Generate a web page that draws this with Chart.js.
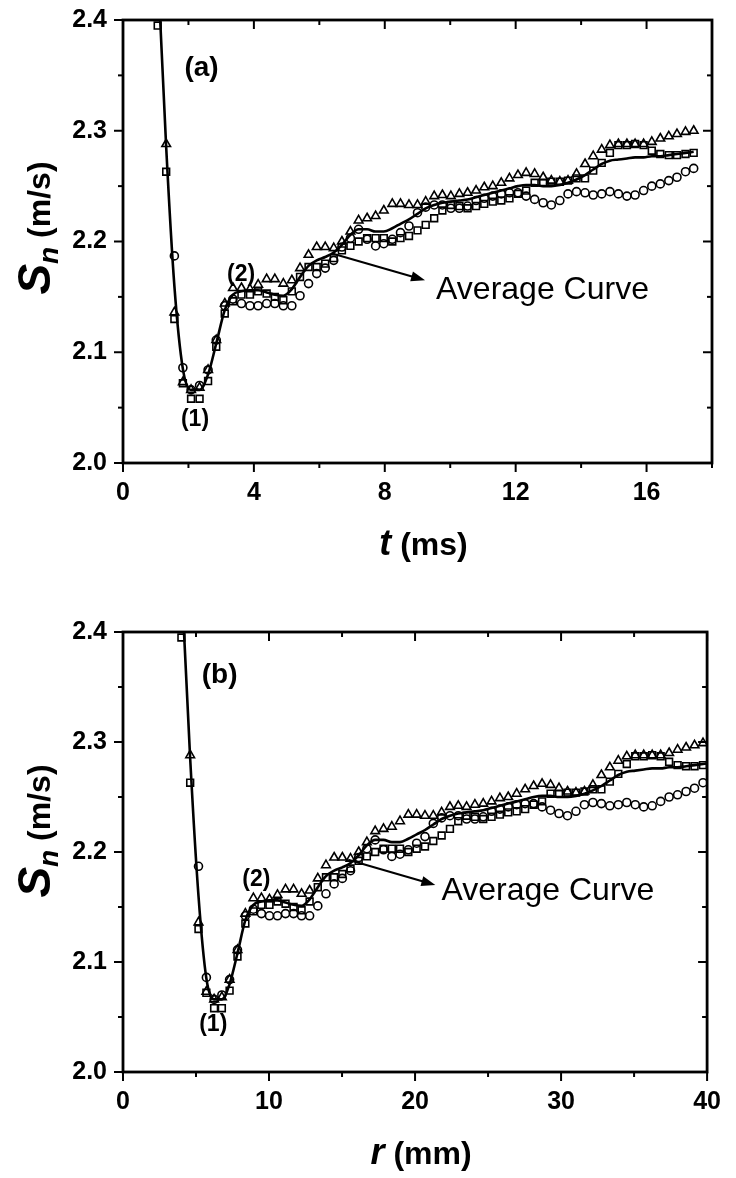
<!DOCTYPE html>
<html>
<head>
<meta charset="utf-8">
<script src="https://cdn.jsdelivr.net/npm/chart.js@4.4.1/dist/chart.umd.min.js"></script>
<style>
  html, body { margin: 0; padding: 0; background: #fff; }
  body { width: 736px; height: 1178px; position: relative; overflow: hidden; }
  canvas { position: absolute; left: 0; }
</style>
</head>
<body>
<canvas id="chartT" width="736" height="589" style="top:-11px"></canvas>
<canvas id="chartR" width="736" height="589" style="top:589px"></canvas>
<script>
// sample times (ms) and the matching flame radius (mm)
const tValues = [1.06, 1.32, 1.57, 1.83, 2.08, 2.34, 2.60, 2.85, 3.11, 3.36,
  3.62, 3.88, 4.13, 4.39, 4.64, 4.90, 5.16, 5.41, 5.67, 5.92,
  6.18, 6.44, 6.69, 6.95, 7.20, 7.46, 7.72, 7.97, 8.23, 8.48,
  8.74, 9.00, 9.25, 9.51, 9.76, 10.02, 10.28, 10.53, 10.79, 11.04,
  11.30, 11.56, 11.81, 12.07, 12.32, 12.58, 12.84, 13.09, 13.35, 13.60,
  13.86, 14.12, 14.37, 14.63, 14.88, 15.14, 15.40, 15.65, 15.91, 16.16,
  16.42, 16.68, 16.93, 17.19, 17.44];
const rValues = [4.00, 4.60, 5.17, 5.71, 6.24, 6.77, 7.30, 7.84, 8.38, 8.93,
  9.48, 10.03, 10.58, 11.13, 11.68, 12.23, 12.78, 13.34, 13.90, 14.46,
  15.02, 15.58, 16.14, 16.70, 17.27, 17.84, 18.41, 18.97, 19.54, 20.11,
  20.68, 21.25, 21.82, 22.39, 22.96, 23.53, 24.10, 24.67, 25.24, 25.81,
  26.38, 26.96, 27.54, 28.12, 28.70, 29.28, 29.86, 30.44, 31.02, 31.60,
  32.18, 32.76, 33.34, 33.92, 34.50, 35.08, 35.66, 36.24, 36.82, 37.40,
  37.98, 38.56, 39.14, 39.72, 40.30];

// Sn (m/s) for the three runs and their average
const sqValues = [2.395, 2.263, 2.130, 2.072, 2.058, 2.058, 2.074, 2.105, 2.135, 2.146,
  2.152, 2.152, 2.155, 2.153, 2.150, 2.147, 2.155, 2.168, 2.177, 2.177,
  2.180, 2.185, 2.192, 2.196, 2.200, 2.203, 2.203, 2.203, 2.200, 2.203,
  2.205, 2.210, 2.215, 2.221, 2.228, 2.233, 2.232, 2.230, 2.232, 2.234,
  2.236, 2.237, 2.239, 2.243, 2.246, 2.253, 2.253, 2.254, 2.254, 2.255,
  2.257, 2.257, 2.264, 2.271, 2.280, 2.287, 2.287, 2.288, 2.287, 2.282,
  2.279, 2.278, 2.278, 2.279, 2.280];
const circValues = [null, null, 2.187, 2.086, 2.066, 2.070, 2.084, 2.111, 2.142, 2.148,
  2.144, 2.142, 2.142, 2.144, 2.144, 2.142, 2.142, 2.151, 2.162, 2.171,
  2.176, 2.183, 2.195, 2.203, 2.211, 2.202, 2.196, 2.198, 2.202, 2.208,
  2.214, 2.226, 2.231, 2.233, 2.233, 2.230, 2.230, 2.232, 2.237, 2.239,
  2.241, 2.243, 2.244, 2.244, 2.241, 2.238, 2.235, 2.233, 2.237, 2.243,
  2.245, 2.244, 2.242, 2.243, 2.245, 2.243, 2.241, 2.242, 2.246, 2.250,
  2.252, 2.255, 2.258, 2.263, 2.266];
const triValues = [null, 2.288, 2.136, 2.073, 2.066, 2.068, 2.084, 2.111, 2.144, 2.158,
  2.158, 2.157, 2.161, 2.166, 2.166, 2.162, 2.165, 2.176, 2.188, 2.195,
  2.195, 2.194, 2.200, 2.209, 2.219, 2.221, 2.223, 2.228, 2.234, 2.234,
  2.233, 2.233, 2.236, 2.241, 2.242, 2.241, 2.243, 2.244, 2.246, 2.249,
  2.250, 2.253, 2.257, 2.260, 2.262, 2.261, 2.258, 2.255, 2.254, 2.255,
  2.261, 2.270, 2.277, 2.283, 2.287, 2.288, 2.288, 2.288, 2.288, 2.290,
  2.293, 2.295, 2.297, 2.299, 2.300];
const avgValues = [2.450, 2.285, 2.160, 2.085, 2.066, 2.066, 2.080, 2.108, 2.138, 2.152,
  2.155, 2.156, 2.156, 2.154, 2.152, 2.151, 2.157, 2.168, 2.178, 2.183,
  2.186, 2.190, 2.197, 2.206, 2.211, 2.211, 2.209, 2.209, 2.212, 2.216,
  2.220, 2.225, 2.230, 2.233, 2.235, 2.236, 2.237, 2.238, 2.240, 2.242,
  2.244, 2.246, 2.248, 2.250, 2.251, 2.251, 2.250, 2.250, 2.251, 2.253,
  2.256, 2.260, 2.265, 2.270, 2.273, 2.274, 2.275, 2.276, 2.276, 2.277,
  2.277, 2.278, 2.279, 2.280, 2.281];

// axis ticks
const tMajor = [0, 4, 8, 12, 16];
const tMinor = [2, 6, 10, 14, 18];
const rMajor = [0, 10, 20, 30, 40];
const rMinor = [5, 15, 25, 35];
const sMajor = [2.0, 2.1, 2.2, 2.3, 2.4];
const sMinor = [2.05, 2.15, 2.25, 2.35];

const FONT = "'Liberation Sans', Arial, sans-serif";

// frame, ticks, notes and axis titles drawn on top of the datasets
const decor = {
  id: 'decor',
  afterDatasetsDraw(chart, args, o) {
    const { ctx, chartArea: a, scales: { x, y } } = chart;
    ctx.save();
    ctx.strokeStyle = '#000';
    ctx.fillStyle = '#000';
    ctx.lineWidth = 2.8;
    ctx.strokeRect(a.left, a.top, a.right - a.left, a.bottom - a.top);

    ctx.lineWidth = 2;
    const seg = (x1, y1, x2, y2) => {
      ctx.beginPath(); ctx.moveTo(x1, y1); ctx.lineTo(x2, y2); ctx.stroke();
    };
    const xTicks = (vals, len) => vals.forEach(v => {
      const px = x.getPixelForValue(v);
      seg(px, a.bottom, px, a.bottom + len);
      seg(px, a.top, px, a.top + len);
    });
    const yTicks = (vals, len) => vals.forEach(v => {
      const py = y.getPixelForValue(v);
      seg(a.left - len, py, a.left, py);
      seg(a.right - len, py, a.right, py);
    });
    xTicks(o.xMajor, 9); xTicks(o.xMinor, 5);
    yTicks(sMajor, 9); yTicks(sMinor, 5);

    // text notes
    ctx.textAlign = 'center';
    o.notes.forEach(n => {
      ctx.font = (n.weight || 'bold') + ' ' + n.size + 'px ' + FONT;
      ctx.textBaseline = n.baseline || 'middle';
      ctx.fillText(n.text, x.getPixelForValue(n.x), y.getPixelForValue(n.y));
    });

    // arrow to the average curve
    const ar = o.arrow;
    const x1 = x.getPixelForValue(ar.from[0]), y1 = y.getPixelForValue(ar.from[1]);
    const x2 = x.getPixelForValue(ar.to[0]), y2 = y.getPixelForValue(ar.to[1]);
    const ang = Math.atan2(y2 - y1, x2 - x1);
    ctx.lineWidth = 2;
    seg(x1, y1, x2 - 10 * Math.cos(ang), y2 - 10 * Math.sin(ang));
    ctx.beginPath();
    ctx.moveTo(x2, y2);
    ctx.lineTo(x2 - 14 * Math.cos(ang) + 5 * Math.sin(ang), y2 - 14 * Math.sin(ang) - 5 * Math.cos(ang));
    ctx.lineTo(x2 - 14 * Math.cos(ang) - 5 * Math.sin(ang), y2 - 14 * Math.sin(ang) + 5 * Math.cos(ang));
    ctx.closePath();
    ctx.fill();

    // mixed-style titles
    const drawParts = (parts, startX, baseY) => {
      let cx = startX;
      parts.forEach(p => {
        ctx.font = p.font;
        ctx.fillText(p.text, cx, baseY + (p.dy || 0));
        cx += ctx.measureText(p.text).width;
      });
    };
    const widthOf = parts => parts.reduce((w, p) => { ctx.font = p.font; return w + ctx.measureText(p.text).width; }, 0);
    ctx.textAlign = 'left';
    ctx.textBaseline = 'alphabetic';

    const xt = [
      { text: o.xVar, font: 'italic bold 36px ' + FONT },
      { text: o.xUnit, font: 'bold 32px ' + FONT }
    ];
    const cxT = (a.left + a.right) / 2 + 6;
    drawParts(xt, cxT - widthOf(xt) / 2, a.bottom + 92);

    const yt = [
      { text: 'S', font: 'italic bold 46px ' + FONT },
      { text: 'n', font: 'italic bold 28px ' + FONT, dy: 8 },
      { text: ' (m/s)', font: 'bold 32px ' + FONT }
    ];
    ctx.translate(50, a.top + o.yTitleOffset);
    ctx.rotate(-Math.PI / 2);
    drawParts(yt, -widthOf(yt) / 2, 0);
    ctx.restore();
  }
};

function makeChart(id, xVals, xMax, xMajor, xMinor, padTop, xAxisH, extra) {
  const pts = vals => xVals.map((v, i) => ({ x: v, y: vals[i] }));
  const marker = (vals, style, r) => ({
    data: pts(vals), pointStyle: style, pointRadius: r, pointBorderWidth: 1.6,
    borderColor: '#000', backgroundColor: 'rgba(0,0,0,0)', showLine: false, order: 2
  });
  return new Chart(document.getElementById(id), {
    type: 'scatter',
    data: {
      datasets: [
        marker(sqValues, 'rect', 4.8),
        marker(circValues, 'circle', 4.0),
        marker(triValues, 'triangle', 5.0),
        {
          data: pts(avgValues), showLine: true, pointRadius: 0, borderWidth: 2.6,
          borderColor: '#000', cubicInterpolationMode: 'monotone', order: 1
        }
      ]
    },
    options: {
      responsive: false,
      animation: false,
      layout: { padding: { top: padTop, right: 24, left: 0, bottom: 0 } },
      plugins: { legend: { display: false }, tooltip: { enabled: false }, decor: Object.assign({ xMajor, xMinor }, extra) },
      scales: {
        x: {
          type: 'linear', min: 0, max: xMax,
          afterBuildTicks: s => { s.ticks = xMajor.map(v => ({ value: v })); },
          afterFit: s => { s.height = xAxisH; },
          grid: { display: false, drawTicks: false },
          border: { display: false },
          ticks: { padding: 15, color: '#000', font: { family: FONT, size: 25, weight: 'bold' }, callback: v => String(v) }
        },
        y: {
          type: 'linear', min: 2.0, max: 2.4,
          afterBuildTicks: s => { s.ticks = sMajor.map(v => ({ value: v })); },
          afterFit: s => { s.width = 123; },
          grid: { display: false, drawTicks: false },
          border: { display: false },
          ticks: { padding: 16, color: '#000', font: { family: FONT, size: 25, weight: 'bold' }, callback: v => v.toFixed(1) }
        }
      }
    },
    plugins: [decor]
  });
}

makeChart('chartT', tValues, 18, tMajor, tMinor, 20, 115, {
  xVar: 't', xUnit: ' (ms)', yTitleOffset: 208,
  notes: [
    { text: '(a)', x: 2.40, y: 2.356, size: 28 },
    { text: '(1)', x: 2.20, y: 2.039, size: 23 },
    { text: '(2)', x: 3.61, y: 2.170, size: 23 },
    { text: 'Average Curve', x: 12.82, y: 2.148, size: 32, weight: 'normal', baseline: 'alphabetic' }
  ],
  arrow: { from: [6.42, 2.189], to: [9.23, 2.165] }
});

makeChart('chartR', rValues, 40, rMajor, rMinor, 43, 106, {
  xVar: 'r', xUnit: ' (mm)', yTitleOffset: 199,
  notes: [
    { text: '(b)', x: 6.62, y: 2.361, size: 28 },
    { text: '(1)', x: 6.18, y: 2.043, size: 23 },
    { text: '(2)', x: 9.13, y: 2.175, size: 23 },
    { text: 'Average Curve', x: 29.1, y: 2.156, size: 32, weight: 'normal', baseline: 'alphabetic' }
  ],
  arrow: { from: [15.42, 2.193], to: [21.39, 2.170] }
});
</script>
</body>
</html>
